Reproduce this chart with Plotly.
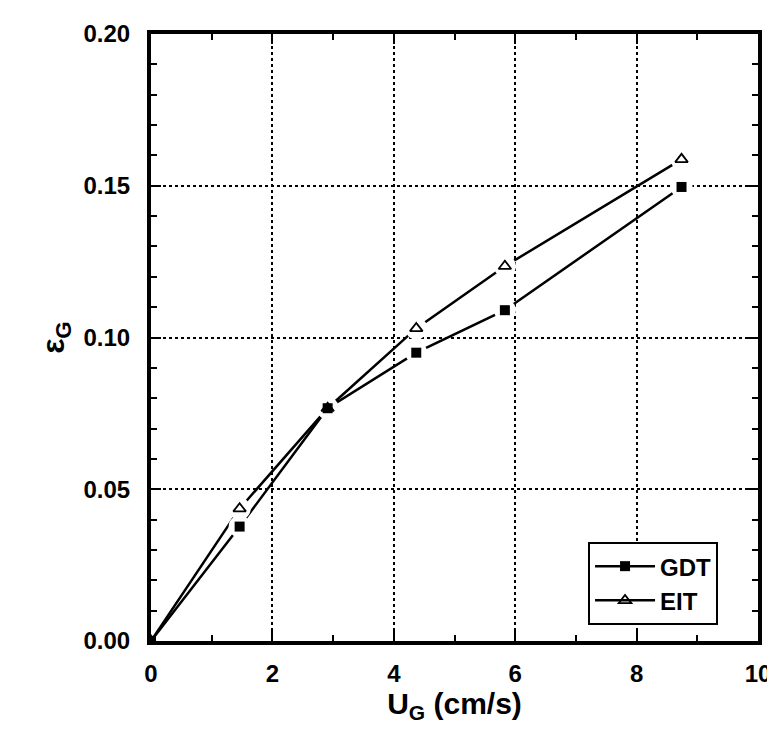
import plotly.graph_objects as go

ug = [0.0, 1.46, 2.91, 4.37, 5.83, 8.74]
eps_gdt = [0.0, 0.0377, 0.0767, 0.0950, 0.1090, 0.1496]
eps_eit = [0.0, 0.0436, 0.0767, 0.1030, 0.1235, 0.1587]

x_ticks = [0, 2, 4, 6, 8, 10]
y_ticks = [0.00, 0.05, 0.10, 0.15, 0.20]

FONT = "Liberation Sans, Arial, Helvetica, sans-serif"

fig = go.Figure()

# lines (with legend entries)
fig.add_trace(go.Scatter(x=ug, y=eps_gdt, mode="lines+markers", name="GDT",
                         line=dict(color="black", width=2.5),
                         marker=dict(symbol="square", size=10, color="black")))
fig.add_trace(go.Scatter(x=ug, y=eps_eit, mode="lines+markers", name="EIT",
                         line=dict(color="black", width=2.5),
                         marker=dict(symbol="triangle-up-open", size=11, color="black",
                                     line=dict(width=1.8))))
# white halos to create gaps around markers
for yv in (eps_gdt, eps_eit):
    fig.add_trace(go.Scatter(x=ug[1:], y=yv[1:], mode="markers",
                             marker=dict(symbol="circle", size=22, color="white",
                                         line=dict(width=0)),
                             showlegend=False, hoverinfo="skip"))
# markers on top
fig.add_trace(go.Scatter(x=ug, y=eps_gdt, mode="markers", showlegend=False,
                         marker=dict(symbol="square", size=10, color="black"),
                         hoverinfo="skip"))
fig.add_trace(go.Scatter(x=ug[1:], y=eps_eit[1:], mode="markers", showlegend=False,
                         marker=dict(symbol="triangle-up-open", size=11, color="black",
                                     line=dict(width=1.8)),
                         hoverinfo="skip"))

axis_common = dict(
    showline=True, linecolor="black", linewidth=4, mirror="ticks",
    ticks="inside", ticklen=10, tickwidth=2, tickcolor="black",
    showgrid=True, gridcolor="black", gridwidth=2, griddash="dot",
    zeroline=False,
    tickfont=dict(family=FONT, size=24, color="black", weight="bold"),
)

fig.update_xaxes(range=[0, 10], tickvals=x_ticks, ticktext=[str(v) for v in x_ticks],
                 ticklabelstandoff=8,
                 minor=dict(dtick=1, ticks="inside", ticklen=6, tickwidth=1.5,
                            tickcolor="black", showgrid=False),
                 title=dict(text="U<sub>G</sub> (cm/s)", standoff=0,
                            font=dict(family=FONT, size=30, color="black", weight="bold")),
                 **axis_common)
fig.update_yaxes(range=[0, 0.20], tickvals=y_ticks, ticktext=[f"{v:.2f}" for v in y_ticks],
                 ticklabelstandoff=12,
                 minor=dict(dtick=0.01, ticks="inside", ticklen=6, tickwidth=1.5,
                            tickcolor="black", showgrid=False),
                 title=dict(text="ε<sub>G</sub>", standoff=10,
                            font=dict(family=FONT, size=32, color="black", weight="bold")),
                 **axis_common)

fig.update_layout(
    width=775, height=731,
    margin=dict(l=143, r=15, t=18, b=98),
    paper_bgcolor="white", plot_bgcolor="white",
    legend=dict(x=0.72, y=0.163, xanchor="left", yanchor="top",
                bgcolor="white", bordercolor="black", borderwidth=2,
                font=dict(family=FONT, size=24, color="black", weight="bold"),
                tracegroupgap=2, itemwidth=60),
)

fig.write_html("out.html")
